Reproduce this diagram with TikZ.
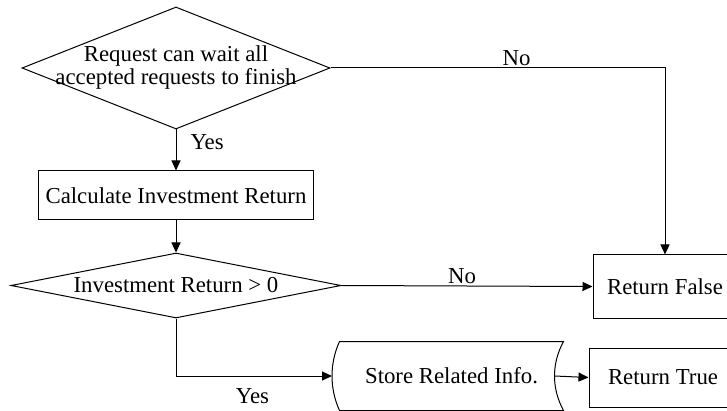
\documentclass[tikz,border=0pt]{standalone}
\usepackage{fontspec}
\setmainfont{Liberation Serif}
\usetikzlibrary{shapes.geometric,arrows.meta}

\tikzset{
    box/.style={draw, rectangle, inner sep=0pt},
    decision/.style={draw, diamond, inner sep=0pt},
    flow/.style={-{Triangle[length=10pt,width=9pt]}},
    lbl/.style={inner sep=0pt},
}

\begin{document}
\begin{tikzpicture}[x=1pt, y=-1pt, line width=1pt, font=\fontsize{22.8}{23}\selectfont]
    \useasboundingbox (0, 0) rectangle (727, 411);

    \node[decision, minimum width=308pt, minimum height=122pt,
          label={[align=center]center:Request can wait all\\accepted requests to finish}] (q1) at (176, 68) {};
    \node[box, minimum width=275pt, minimum height=49pt] (c1) at (176, 195.5) {Calculate Investment Return};
    \node[decision, minimum width=330pt, minimum height=65pt,
          label={center:Investment Return > 0}] (q2) at (176, 285.5) {};

    \node[box, minimum width=144pt, minimum height=63pt] (r1) at (665, 286.5) {Return False};
    \node[box, minimum width=148pt, minimum height=59pt] (r2) at (663, 377.5) {Return True};

    % stored data symbol, sides drawn by hand
    \node[minimum width=223pt, minimum height=68pt, inner sep=0pt] (s1) at (451.5, 376) {Store Related Info.};
    \draw (s1.north west) -- (s1.north east)
        .. controls +(-12, 22) and +(-12, -22) .. (s1.south east)
        -- (s1.south west)
        .. controls +(-10, -22) and +(-10, 22) .. (s1.north west) -- cycle;
    \coordinate (s1l) at ([xshift=-7.5pt]s1.west);
    \coordinate (s1r) at ([xshift=-9pt]s1.east);

    \draw[flow] (q1.south) -- node[lbl, pos=0.31, anchor=west, xshift=14pt] {Yes} (c1.north);
    \draw[flow] (c1.south) -- (q2.north);
    \draw[flow] (q1.east) -| node[lbl, pos=0.278, anchor=base, yshift=2pt] {No} (r1.north);
    \draw[flow] (q2.east) -- node[lbl, pos=0.48, anchor=base, yshift=2pt] {No} (r1.west);
    \draw[flow] (q2.south) |- node[lbl, pos=0.745, anchor=north, yshift=-12pt] {Yes} (s1l);
    \draw[flow] (s1r) -- (r2.west);
\end{tikzpicture}
\end{document}
